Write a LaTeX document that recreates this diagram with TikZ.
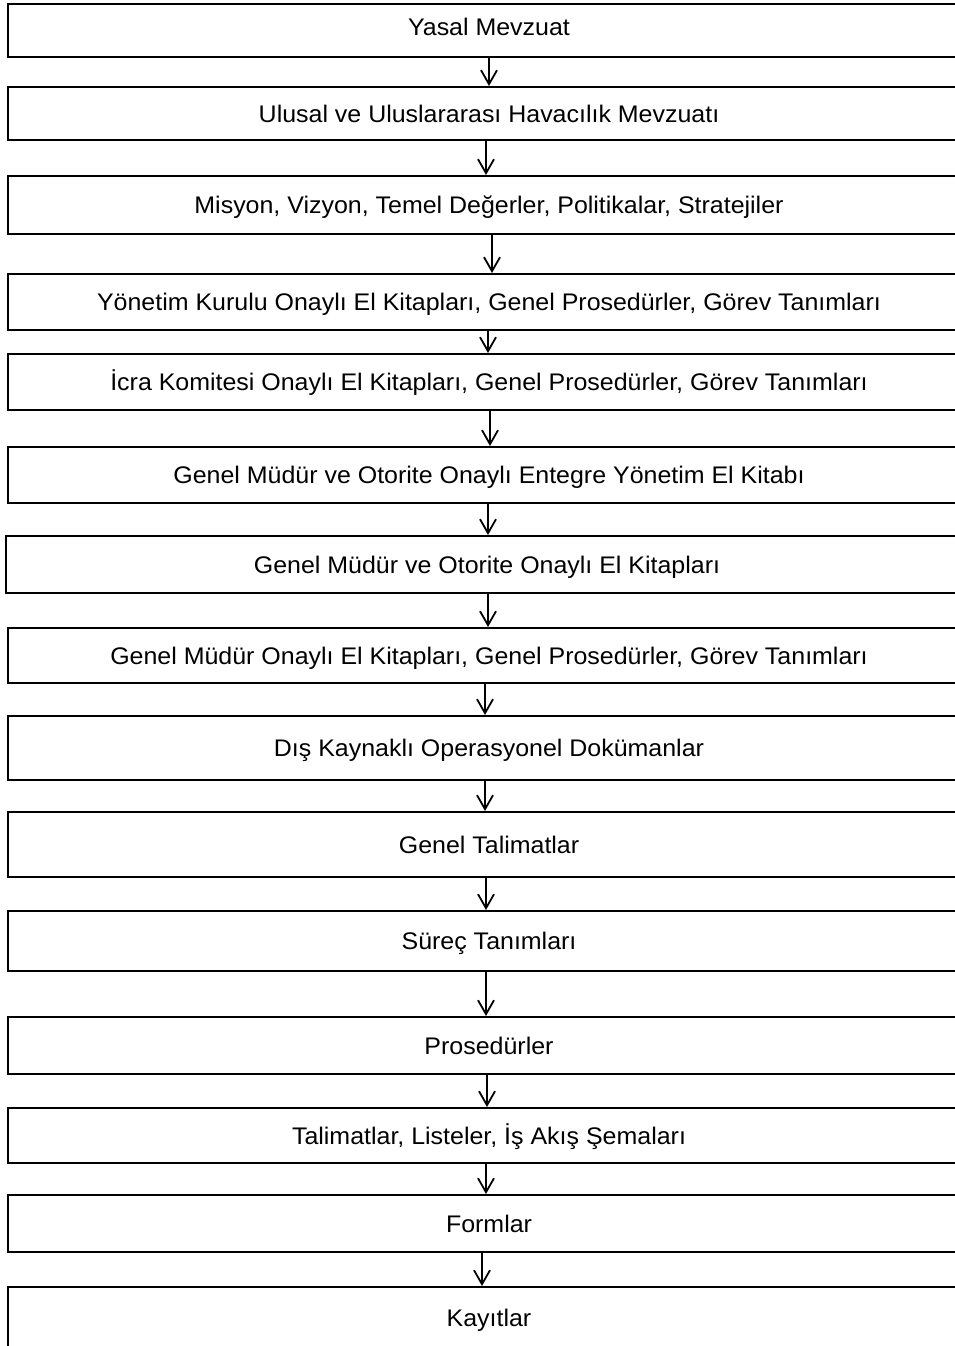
\documentclass[tikz,border=0pt]{standalone}
\usepackage{fontspec}
\setmainfont{Liberation Sans}[FakeStretch=1.04]
\usetikzlibrary{arrows.meta}

\tikzset{
   docbox/.style={draw, line width=2pt, minimum width=963pt, inner sep=0pt,
      text height=17pt, text depth=0pt, font=\fontsize{24}{28}\selectfont},
   docarrow/.style={line width=1.8pt, -{Straight Barb[length=14pt, width=16pt]}}
}

\begin{document}
\begin{tikzpicture}[x=1pt, y=-1pt]
      \useasboundingbox (0,0) rectangle (955,1346);
      % Document levels
      \node[docbox, minimum height=53pt] (mevzuat) at (489,30.5) {\raisebox{3pt}{Yasal Mevzuat}};
      \node[docbox, minimum height=53pt] (havacilik) at (489,113.5) {Ulusal ve Uluslararası Havacılık Mevzuatı};
      \node[docbox, minimum height=58pt] (misyon) at (489,205) {Misyon, Vizyon, Temel Değerler, Politikalar, Stratejiler};
      \node[docbox, minimum height=56pt] (yonetim) at (489,302) {Yönetim Kurulu Onaylı El Kitapları, Genel Prosedürler, Görev Tanımları};
      \node[docbox, minimum height=56pt] (icra) at (489,382) {İcra Komitesi Onaylı El Kitapları, Genel Prosedürler, Görev Tanımları};
      \node[docbox, minimum height=56pt] (entegre) at (489,475) {Genel Müdür ve Otorite Onaylı Entegre Yönetim El Kitabı};
      \node[docbox, minimum height=57pt] (otorite) at (487,564.5) {Genel Müdür ve Otorite Onaylı El Kitapları};
      \node[docbox, minimum height=55pt] (gmonayli) at (489,655.5) {Genel Müdür Onaylı El Kitapları, Genel Prosedürler, Görev Tanımları};
      \node[docbox, minimum height=64pt] (diskaynak) at (489,748) {Dış Kaynaklı Operasyonel Dokümanlar};
      \node[docbox, minimum height=65pt] (gtalimat) at (489,844.5) {Genel Talimatlar};
      \node[docbox, minimum height=60pt] (surec) at (489,941) {Süreç Tanımları};
      \node[docbox, minimum height=57pt] (prosedur) at (489,1045.5) {Prosedürler};
      \node[docbox, minimum height=55pt] (talimat) at (489,1135.5) {Talimatlar, Listeler, İş Akış Şemaları};
      \node[docbox, minimum height=57pt] (formlar) at (489,1223.5) {Formlar};
      \node[docbox, minimum height=62pt] (kayitlar) at (489,1318) {Kayıtlar};
      % Arrows between levels
      \draw[docarrow] (mevzuat.south) -- (havacilik.north);
      \draw[docarrow] ([xshift=-3pt]havacilik.south) -- ([xshift=-3pt]havacilik.south |- misyon.north);
      \draw[docarrow] ([xshift=3pt]misyon.south) -- ([xshift=3pt]misyon.south |- yonetim.north);
      \draw[docarrow] ([xshift=-1pt]yonetim.south) -- ([xshift=-1pt]yonetim.south |- icra.north);
      \draw[docarrow] ([xshift=1pt]icra.south) -- ([xshift=1pt]icra.south |- entegre.north);
      \draw[docarrow] ([xshift=-1pt]entegre.south) -- ([xshift=-1pt]entegre.south |- otorite.north);
      \draw[docarrow] ([xshift=1pt]otorite.south) -- ([xshift=1pt]otorite.south |- gmonayli.north);
      \draw[docarrow] ([xshift=-4pt]gmonayli.south) -- ([xshift=-4pt]gmonayli.south |- diskaynak.north);
      \draw[docarrow] ([xshift=-4pt]diskaynak.south) -- ([xshift=-4pt]diskaynak.south |- gtalimat.north);
      \draw[docarrow] ([xshift=-3pt]gtalimat.south) -- ([xshift=-3pt]gtalimat.south |- surec.north);
      \draw[docarrow] ([xshift=-3pt]surec.south) -- ([xshift=-3pt]surec.south |- prosedur.north);
      \draw[docarrow] ([xshift=-2pt]prosedur.south) -- ([xshift=-2pt]prosedur.south |- talimat.north);
      \draw[docarrow] ([xshift=-3pt]talimat.south) -- ([xshift=-3pt]talimat.south |- formlar.north);
      \draw[docarrow] ([xshift=-7pt]formlar.south) -- ([xshift=-7pt]formlar.south |- kayitlar.north);
   \end{tikzpicture}
\end{document}
